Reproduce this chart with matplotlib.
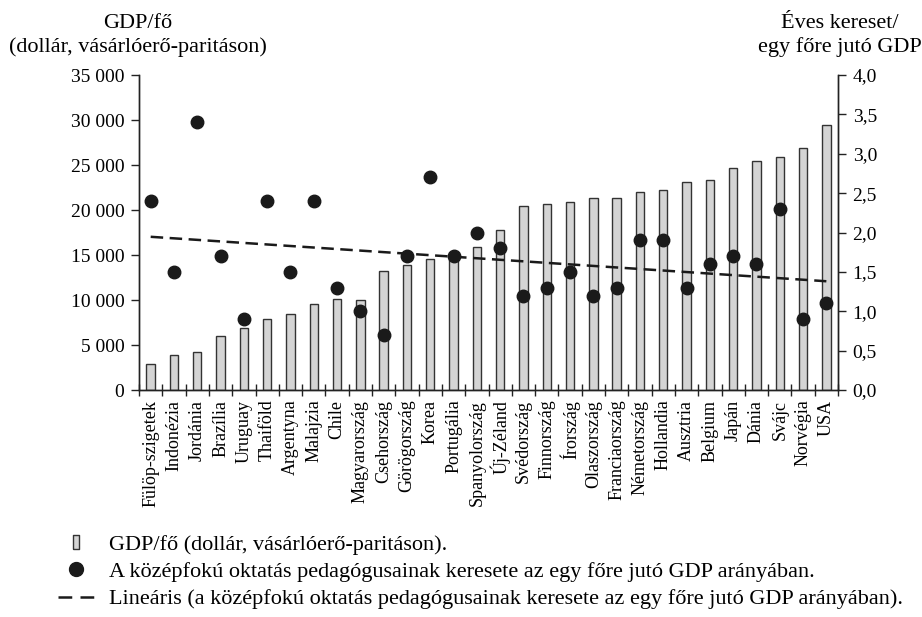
import numpy as np
import matplotlib
matplotlib.use("Agg")
import matplotlib.pyplot as plt
from matplotlib.ticker import FuncFormatter
from matplotlib.lines import Line2D

plt.rcParams['font.family'] = ['Liberation Serif', 'DejaVu Serif']

countries = ["Fülöp-szigetek", "Indonézia", "Jordánia", "Brazília", "Uruguay",
             "Thaiföld", "Argentyna", "Malajzia", "Chile", "Magyarország",
             "Csehország", "Görögország", "Korea", "Portugália", "Spanyolország",
             "Új-Zéland", "Svédország", "Finnország", "Írország", "Olaszország",
             "Franciaország", "Németország", "Hollandia", "Ausztria", "Belgium",
             "Japán", "Dánia", "Svájc", "Norvégia", "USA"]

# GDP per capita (USD, PPP)
gdp = [2850, 3900, 4200, 6000, 6900, 7900, 8500, 9600, 10100, 9950,
       13200, 13900, 14550, 15000, 15900, 17800, 20500, 20700, 20900, 21300,
       21300, 22000, 22200, 23100, 23300, 24700, 25400, 25900, 26900, 29400]

# teacher salary / GDP per capita
ratio = [2.4, 1.5, 3.4, 1.7, 0.9, 2.4, 1.5, 2.4, 1.3, 1.0,
         0.7, 1.7, 2.7, 1.7, 2.0, 1.8, 1.2, 1.3, 1.5, 1.2,
         1.3, 1.9, 1.9, 1.3, 1.6, 1.7, 1.6, 2.3, 0.9, 1.1]

lbl_bar = "GDP/fő (dollár, vásárlóerő-paritáson)."
lbl_dot = "A középfokú oktatás pedagógusainak keresete az egy főre jutó GDP arányában."
lbl_lin = "Lineáris (a középfokú oktatás pedagógusainak keresete az egy főre jutó GDP arányában)."

FS_TICK = 14
FS_CAT = 13
FS_TXT = 16
ink = "#1a1a1a"

x = np.arange(len(countries))
k, b = np.polyfit(x, ratio, 1)
trend = k * x + b

fig = plt.figure(figsize=(9.22, 6.17), dpi=100)
ax = fig.add_axes([0.1508, 0.3679, 0.9089 - 0.1508, 0.8784 - 0.3679])
ax2 = ax.twinx()

ax.bar(x, gdp, width=0.36, color="#d4d4d4", edgecolor="#333333", linewidth=1.0)
ax2.plot(x, trend, color=ink, linewidth=1.8, linestyle=(0, (5, 2.6)))
ax2.plot(x, ratio, "o", color=ink, markersize=9)

ax.set_xlim(-0.5, len(countries) - 0.5)
ax.set_ylim(0, 35000)
ax2.set_ylim(0, 4)
ax.set_yticks(np.arange(0, 35001, 5000))
ax2.set_yticks(np.arange(0, 4.01, 0.5))
ax.yaxis.set_major_formatter(FuncFormatter(lambda v, p: f"{v:,.0f}".replace(",", " ")))
ax2.yaxis.set_major_formatter(FuncFormatter(lambda v, p: f"{v:.1f}".replace(".", ",")))

ax.set_xticks(np.arange(-0.5, len(countries), 1))
ax.set_xticklabels([])
ax.set_xticks(x, countries, minor=True, rotation=90, fontsize=FS_CAT)
ax.tick_params(axis="x", which="major", direction="inout", length=8.5, width=1, color="#222222")
ax.tick_params(axis="x", which="minor", length=0, pad=7)
ax.tick_params(axis="y", direction="out", length=5.5, width=1, labelsize=FS_TICK, pad=5, color="#222222")
ax2.tick_params(axis="y", direction="out", length=5.5, width=1, labelsize=FS_TICK, pad=5, color="#222222")

for a in (ax, ax2):
    a.spines["top"].set_visible(False)
    for s in ("left", "right", "bottom"):
        a.spines[s].set_color("#222222")
        a.spines[s].set_linewidth(1)

fig.text(0.1497, 0.9627, "GDP/fő", ha="center", va="center", fontsize=FS_TXT)
fig.text(0.1497, 0.9238, "(dollár, vásárlóerő-paritáson)", ha="center", va="center", fontsize=FS_TXT)
fig.text(0.911, 0.9627, "Éves kereset/", ha="center", va="center", fontsize=FS_TXT)
fig.text(0.911, 0.9238, "egy főre jutó GDP", ha="center", va="center", fontsize=FS_TXT)

bar_mark = [(-0.4, -1), (0.4, -1), (0.4, 1), (-0.4, 1), (-0.4, -1)]
handles = [
    Line2D([], [], linestyle="none", marker=bar_mark, markersize=10,
           markerfacecolor="#d4d4d4", markeredgecolor="#333333", markeredgewidth=1),
    Line2D([], [], linestyle="none", marker="o", markersize=10, color=ink),
    Line2D([], [], color=ink, linewidth=1.8, linestyle=(0, (5.5, 3.3))),
]
fig.legend(handles, [lbl_bar, lbl_dot, lbl_lin], loc="upper left",
           bbox_to_anchor=(0.051, 0.152), frameon=False, fontsize=FS_TXT,
           handlelength=1.6, handletextpad=0.68, labelspacing=0.3, borderpad=0)

fig.savefig("out.png", dpi=100)
